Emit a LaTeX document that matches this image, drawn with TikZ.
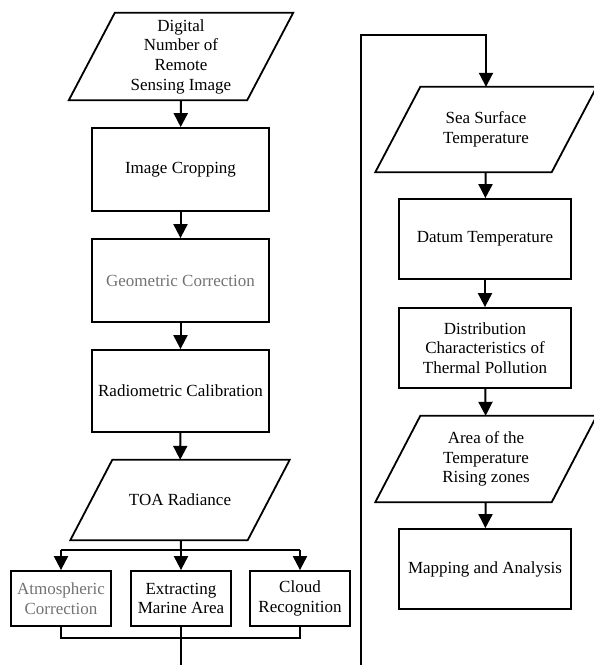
\documentclass[tikz,border=0pt]{standalone}
\usepackage{fontspec}
\setmainfont{Liberation Serif}
\usetikzlibrary{arrows.meta}

\newcommand\slantbox[2]{%
    \draw[line width=1.8pt, line join=miter] ([xshift=#2]#1.north west) -- ([xshift=#2]#1.north east)
        -- ([xshift=-#2]#1.south east) -- ([xshift=-#2]#1.south west) -- cycle;}

\begin{document}
\begin{tikzpicture}[x=1pt, y=-1pt,
    proc/.style = {draw, line width=1.8pt, rectangle, align=center, inner sep=0pt,
        font=\fontsize{17}{19.7}\selectfont},
    data/.style = {rectangle, align=center, inner sep=0pt,
        font=\fontsize{17}{19.7}\selectfont},
    line/.style = {line width=2pt},
    arrow/.style = {line width=2pt, -{Triangle[length=14pt,width=14pt]}},
    dim/.style = {text=black!55}]
    \useasboundingbox (0,0) rectangle (594,665);

    % left column
    \node[data, minimum width=178pt, minimum height=87pt] (dn) at (181,56.5)
        {Digital\\Number of\\Remote\\Sensing Image};
    \slantbox{dn}{23pt}
    \node[proc, minimum width=177pt, minimum height=83pt] (crop) at (180.5,169.5) {Image Cropping};
    \node[proc, dim, minimum width=177pt, minimum height=83pt] (geo) at (180.5,280.5) {Geometric Correction};
    \node[proc, minimum width=177pt, minimum height=82pt] (radio) at (180.5,391) {Radiometric Calibration};
    \node[data, minimum width=177pt, minimum height=80pt] (toa) at (180,500) {TOA Radiance};
    \slantbox{toa}{21pt}
    \node[proc, dim, minimum width=100pt, minimum height=55pt] (atm) at (61,598.5) {Atmospheric\\Correction};
    \node[proc, minimum width=100pt, minimum height=55pt] (ext) at (181,598.5) {Extracting\\Marine Area};
    \node[proc, minimum width=100pt, minimum height=55pt] (cloud) at (300,598.5) {Cloud\\Recognition};
    \coordinate (split) at (181,550);
    \coordinate (merge) at (181,638);
    \coordinate (down) at (181,665);

    \draw[arrow] (dn) -- (crop);
    \draw[arrow] (crop) -- (geo);
    \draw[arrow] (geo) -- (radio);
    \draw[arrow] (radio) -- (toa);
    \draw[line] (toa) -- (split);
    \draw[line] (atm.north |- split) -- (cloud.north |- split);
    \draw[arrow] (atm.north |- split) -- (atm);
    \draw[arrow] (split) -- (ext);
    \draw[arrow] (cloud.north |- split) -- (cloud);
    \draw[line] (atm) -- (atm.south |- merge) -- (cloud.south |- merge) -- (cloud);
    \draw[line] (ext) -- (down);

    % right column
    \coordinate (up) at (361,665);
    \coordinate (top) at (361,35);
    \node[data, minimum width=176pt, minimum height=85pt] (sst) at (486,129.5) {Sea Surface\\Temperature};
    \slantbox{sst}{22.5pt}
    \node[proc, minimum width=172pt, minimum height=80pt] (datum) at (485,239) {Datum Temperature};
    \node[proc, minimum width=172pt, minimum height=80pt] (dist) at (485,348)
        {Distribution\\Characteristics of\\Thermal Pollution};
    \node[data, minimum width=176pt, minimum height=86pt] (area) at (486,459)
        {Area of the\\Temperature\\Rising zones};
    \slantbox{area}{22.5pt}
    \node[proc, minimum width=172pt, minimum height=80pt] (map) at (485,569) {Mapping and Analysis};

    \draw[arrow] (up) -- (top) -- (top -| sst.north) -- (sst);
    \draw[arrow] (sst) -- (datum);
    \draw[arrow] (datum) -- (dist);
    \draw[arrow] (dist) -- (area);
    \draw[arrow] (area) -- (map);
\end{tikzpicture}
\end{document}
